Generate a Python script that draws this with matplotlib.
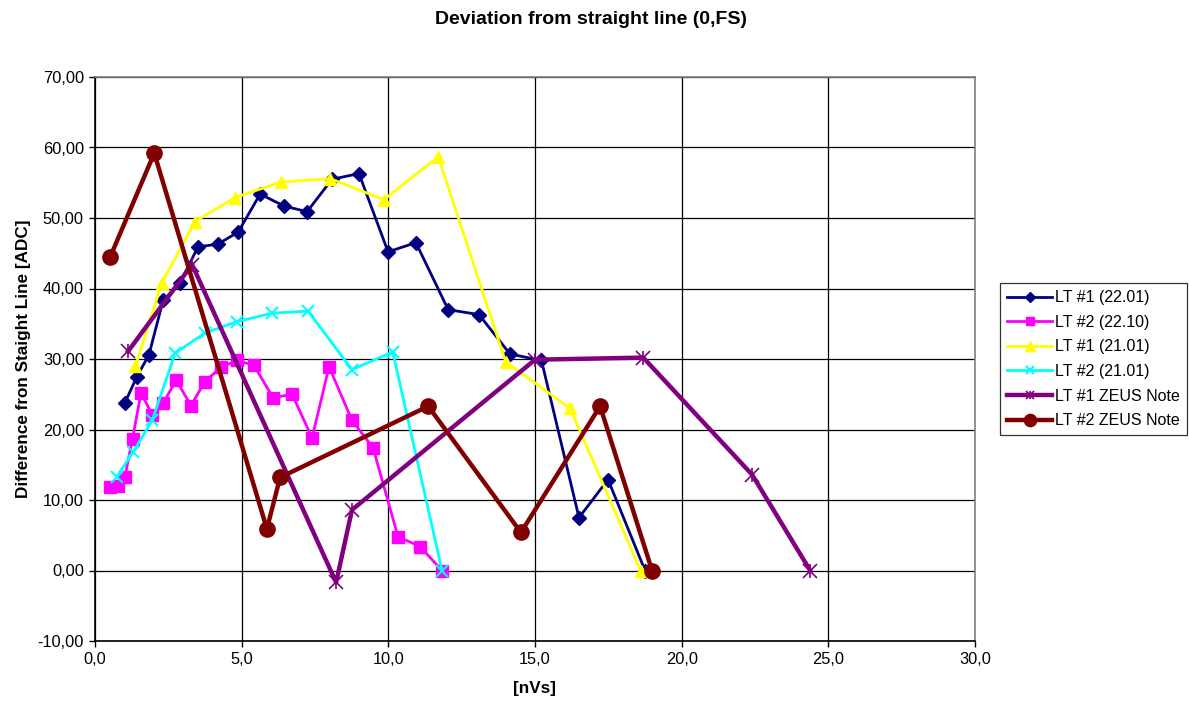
import numpy as np
import matplotlib
matplotlib.use('Agg')
import matplotlib.pyplot as plt
from matplotlib.ticker import FuncFormatter
from matplotlib.lines import Line2D

plt.rcParams['font.family'] = ['Liberation Sans', 'DejaVu Sans']

# LT #1 (22.01)
lt1_2201_x = [1.02, 1.43, 1.84, 2.32, 2.90, 3.51, 4.19, 4.88, 5.63, 6.44, 7.23, 8.08, 9.00,
              9.99, 10.94, 12.04, 13.09, 14.15, 15.22, 16.50, 17.49, 18.75]
lt1_2201_y = [23.8, 27.5, 30.6, 38.3, 40.8, 45.9, 46.3, 48.0, 53.4, 51.7, 50.9, 55.5, 56.3,
              45.2, 46.5, 37.0, 36.3, 30.7, 29.8, 7.5, 12.9, 0.0]

# LT #2 (22.10)
lt2_2210_x = [0.51, 0.78, 1.02, 1.28, 1.57, 1.95, 2.33, 2.77, 3.27, 3.75, 4.29, 4.84, 5.42,
              6.07, 6.72, 7.40, 7.98, 8.76, 9.48, 10.33, 11.08, 11.83]
lt2_2210_y = [11.8, 12.0, 13.3, 18.7, 25.2, 22.1, 23.8, 27.0, 23.4, 26.8, 28.8, 29.8, 29.1,
              24.5, 25.0, 18.8, 28.9, 21.3, 17.4, 4.8, 3.4, 0.0]

# LT #1 (21.01)
lt1_2101_x = [1.38, 2.28, 3.41, 4.77, 6.34, 8.01, 9.85, 11.70, 14.00, 16.20, 18.60]
lt1_2101_y = [29.0, 40.8, 49.5, 52.9, 55.1, 55.6, 52.6, 58.7, 29.6, 23.0, 0.0]

# LT #2 (21.01)
lt2_2101_x = [0.74, 1.30, 1.95, 2.73, 3.75, 4.84, 6.04, 7.26, 8.76, 10.15, 11.83]
lt2_2101_y = [13.3, 16.8, 21.3, 30.8, 33.7, 35.3, 36.5, 36.8, 28.5, 31.0, 0.0]

# LT #1 ZEUS Note
lt1_zeus_x = [1.13, 3.31, 8.22, 8.76, 15.00, 18.69, 22.40, 24.38]
lt1_zeus_y = [31.1, 43.4, -1.7, 8.6, 29.9, 30.2, 13.6, 0.0]

# LT #2 ZEUS Note
lt2_zeus_x = [0.51, 2.02, 5.86, 6.31, 11.36, 14.52, 17.22, 18.99]
lt2_zeus_y = [44.4, 59.2, 5.9, 13.2, 23.3, 5.4, 23.3, 0.0]

fig = plt.figure(figsize=(11.89, 7.04), dpi=100)
ax = fig.add_axes([95/1189, 1 - 641/704, 880/1189, 564/704])

ax.plot(lt1_2201_x, lt1_2201_y, '-D', color='#000080', lw=2.0, ms=7, label='LT #1 (22.01)')
ax.plot(lt2_2210_x, lt2_2210_y, '-s', color='#FF00FF', lw=2.0, ms=8, label='LT #2 (22.10)')
ax.plot(lt1_2101_x, lt1_2101_y, '-^', color='#FFFF00', lw=2.0, ms=9, label='LT #1 (21.01)')
ax.plot(lt2_2101_x, lt2_2101_y, '-x', color='#00FFFF', lw=2.0, ms=8, mew=1.5, label='LT #2 (21.01)')
ax.plot(lt1_zeus_x, lt1_zeus_y, '-', color='#800080', lw=3.2, label='LT #1 ZEUS Note')
ax.plot(lt1_zeus_x, lt1_zeus_y, 'x', color='#800080', ms=10, mew=1.2)
ax.plot(lt1_zeus_x, lt1_zeus_y, '|', color='#800080', ms=10, mew=1.2)
ax.plot(lt2_zeus_x, lt2_zeus_y, '-o', color='#800000', lw=3.2, ms=11, label='LT #2 ZEUS Note')

ax.set_xlim(0, 30)
ax.set_ylim(-10, 70)
ax.set_xticks(np.arange(0, 31, 5))
ax.set_yticks(np.arange(-10, 71, 10))
ax.xaxis.set_major_formatter(FuncFormatter(lambda v, p: f'{v:.1f}'.replace('.', ',')))
ax.yaxis.set_major_formatter(FuncFormatter(lambda v, p: f'{v:.2f}'.replace('.', ',')))
ax.tick_params(direction='out', length=4, width=1, labelsize=11.8, colors='black', pad=4)
ax.grid(True, color='black', lw=0.9)
ax.set_axisbelow(True)
for s in ax.spines.values():
    s.set_color('#808080')
    s.set_linewidth(1.2)
ax.spines['left'].set_color('black')
ax.spines['bottom'].set_color('black')

ax.set_xlabel('[nVs]', fontsize=12.3, fontweight='bold', labelpad=10)
ax.set_ylabel('Difference fron Staight Line [ADC]', fontsize=12.3, fontweight='bold', labelpad=5)
fig.text(0.497, 1 - 19/704, 'Deviation from straight line (0,FS)', fontsize=14,
         fontweight='bold', ha='center', va='center')

# legend with combined asterisk marker for the ZEUS LT #1 entry
handles, labels = ax.get_legend_handles_labels()
handles[4] = (Line2D([], [], color='#800080', lw=3.2, marker='x', ms=8, mew=1.2),
              Line2D([], [], color='#800080', lw=0, marker='|', ms=8, mew=1.2))
leg = fig.legend(handles, labels, loc='upper left', bbox_to_anchor=(1000/1189, 1 - 283/704),
                 fontsize=11.5, frameon=True, fancybox=False, edgecolor='black',
                 handlelength=2.8, borderpad=0.45, labelspacing=0.6, handletextpad=0.2,
                 borderaxespad=0, markerscale=0.8)
leg.get_frame().set_linewidth(0.9)

fig.savefig('out.png', dpi=100)
